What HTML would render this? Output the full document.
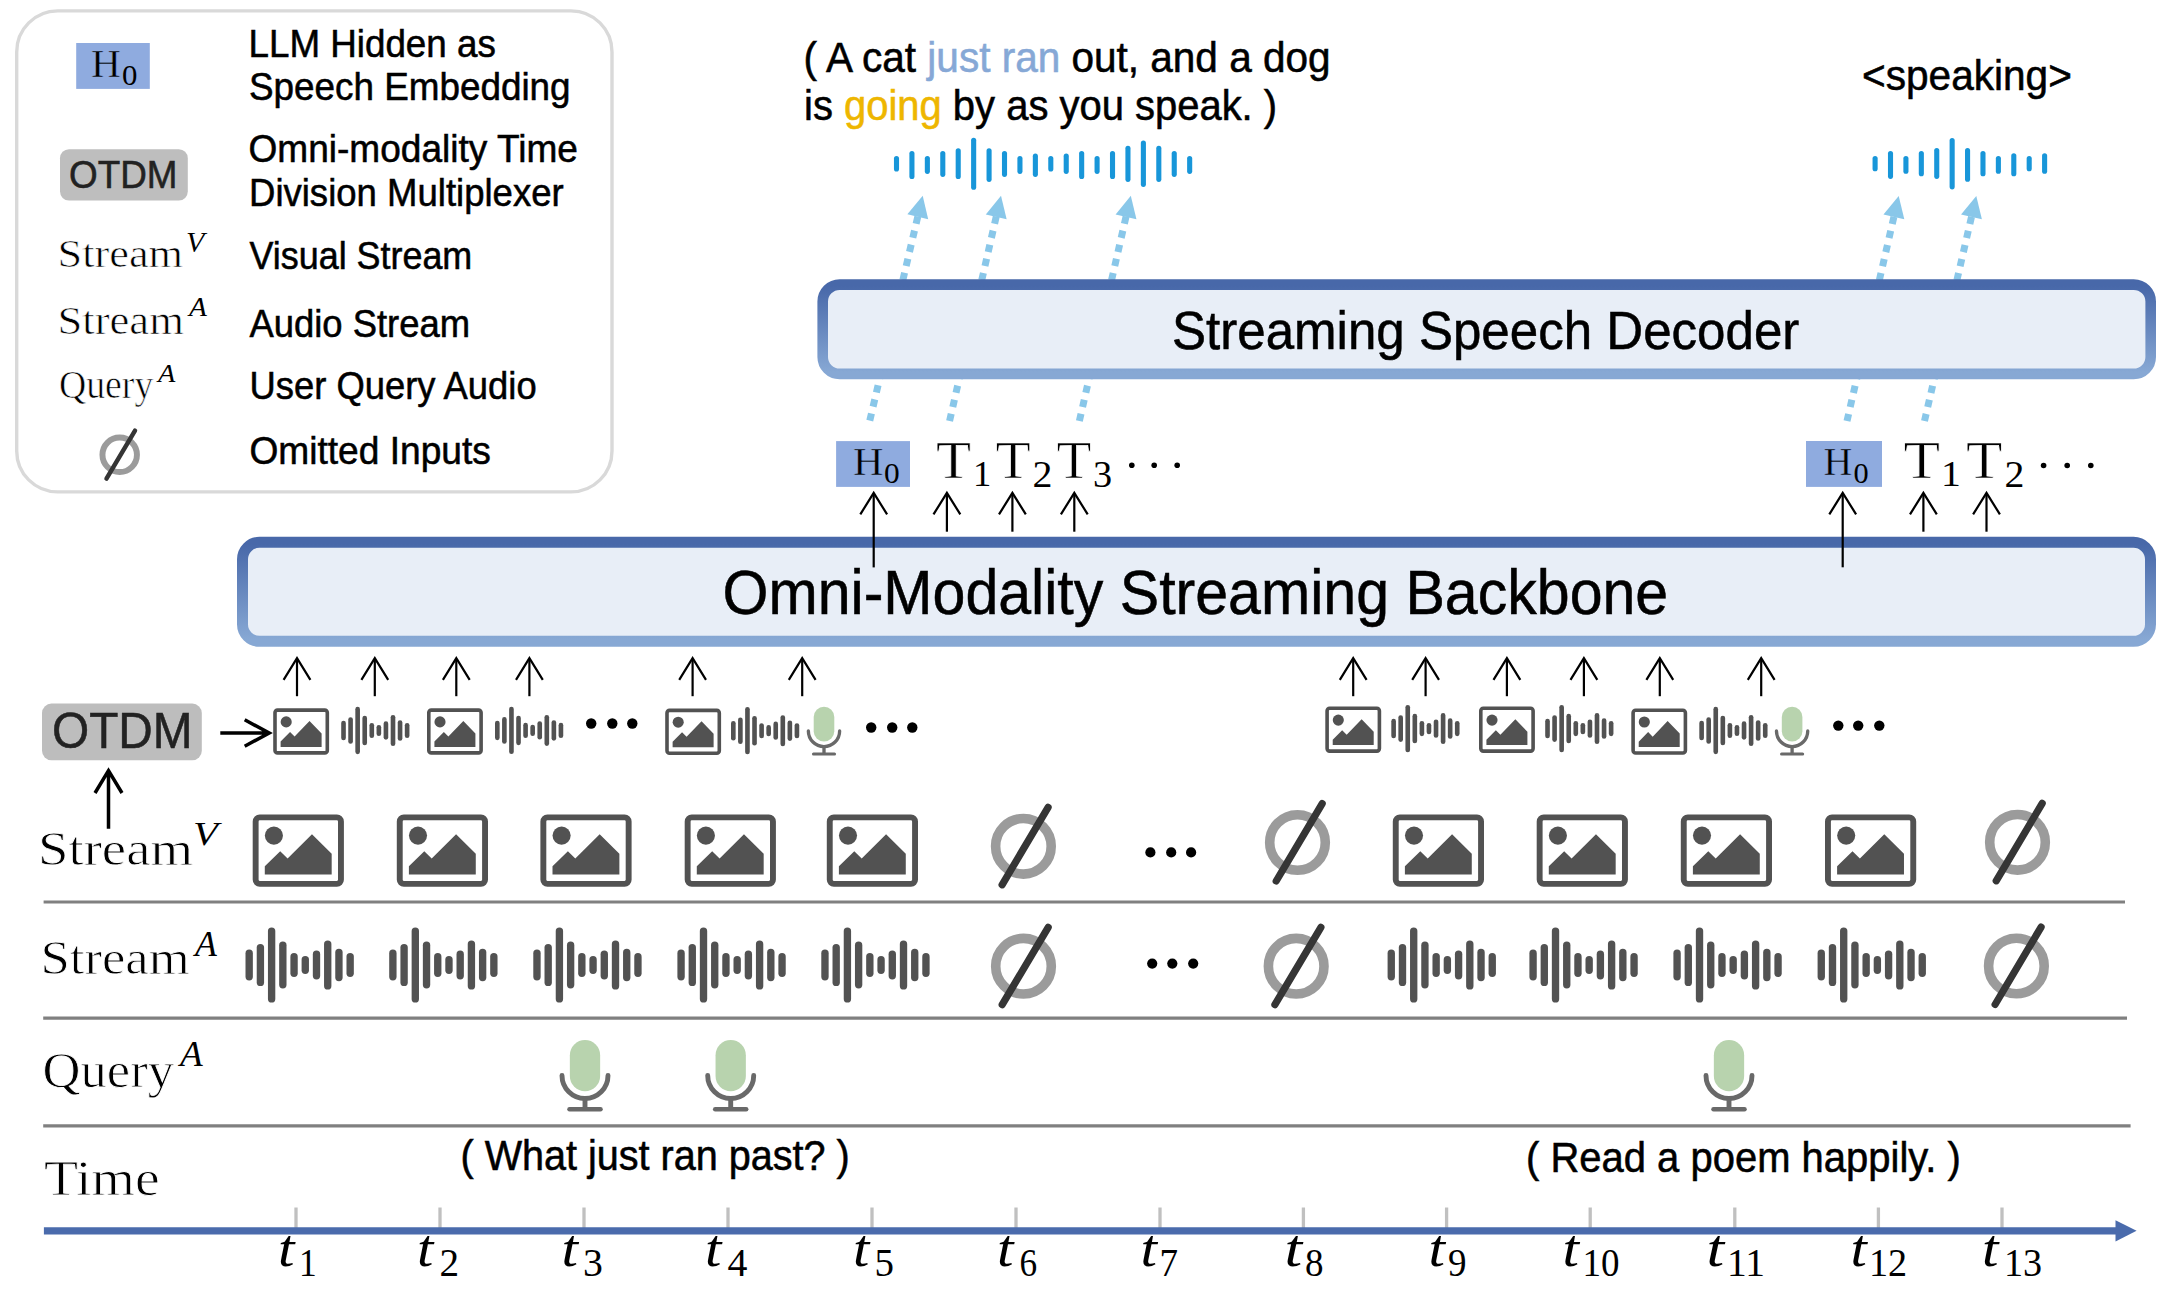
<!DOCTYPE html>
<html><head><meta charset="utf-8"><style>
html,body{margin:0;padding:0;background:#FFFFFF;overflow:hidden;width:2158px;height:1292px;}
svg{display:block;}
</style></head><body>
<svg width="2158" height="1292" viewBox="0 0 2158 1292">
<rect width="2158" height="1292" fill="#FFFFFF"/>
<defs><linearGradient id="g1" x1="0" y1="0" x2="0" y2="1"><stop offset="0.02" stop-color="#4868A9"/><stop offset="0.98" stop-color="#87A8D4"/></linearGradient></defs>
<rect x="16.7" y="10.9" width="595.3" height="481" rx="41" fill="none" stroke="#D9D9D9" stroke-width="3.4"/>
<rect x="76.2" y="43" width="73.6" height="45.9" fill="#8FABDF"/>
<rect x="60" y="149.2" width="127.8" height="51.4" rx="9" fill="#BEBEBE"/>
<circle cx="119.70" cy="454.80" r="17.24" fill="none" stroke="#9B9B9B" stroke-width="5.95"/><line x1="106.49" y1="478.67" x2="135.01" y2="430.68" stroke="#353535" stroke-width="4.46" stroke-linecap="round"/>
<line x1="896.50" y1="158.45" x2="896.50" y2="168.95" stroke="#1896D9" stroke-width="5.1" stroke-linecap="round"/><line x1="911.93" y1="153.45" x2="911.93" y2="176.55" stroke="#1896D9" stroke-width="5.1" stroke-linecap="round"/><line x1="927.36" y1="158.45" x2="927.36" y2="171.35" stroke="#1896D9" stroke-width="5.1" stroke-linecap="round"/><line x1="942.79" y1="153.45" x2="942.79" y2="174.35" stroke="#1896D9" stroke-width="5.1" stroke-linecap="round"/><line x1="958.22" y1="150.75" x2="958.22" y2="176.55" stroke="#1896D9" stroke-width="5.1" stroke-linecap="round"/><line x1="973.65" y1="140.35" x2="973.65" y2="187.15" stroke="#1896D9" stroke-width="5.1" stroke-linecap="round"/><line x1="989.08" y1="150.75" x2="989.08" y2="179.35" stroke="#1896D9" stroke-width="5.1" stroke-linecap="round"/><line x1="1004.51" y1="153.45" x2="1004.51" y2="174.35" stroke="#1896D9" stroke-width="5.1" stroke-linecap="round"/><line x1="1019.94" y1="158.45" x2="1019.94" y2="171.35" stroke="#1896D9" stroke-width="5.1" stroke-linecap="round"/><line x1="1035.37" y1="156.15" x2="1035.37" y2="174.35" stroke="#1896D9" stroke-width="5.1" stroke-linecap="round"/><line x1="1050.80" y1="158.45" x2="1050.80" y2="168.95" stroke="#1896D9" stroke-width="5.1" stroke-linecap="round"/><line x1="1066.23" y1="156.15" x2="1066.23" y2="171.35" stroke="#1896D9" stroke-width="5.1" stroke-linecap="round"/><line x1="1081.66" y1="153.45" x2="1081.66" y2="176.55" stroke="#1896D9" stroke-width="5.1" stroke-linecap="round"/><line x1="1097.09" y1="158.45" x2="1097.09" y2="171.35" stroke="#1896D9" stroke-width="5.1" stroke-linecap="round"/><line x1="1112.52" y1="153.45" x2="1112.52" y2="176.55" stroke="#1896D9" stroke-width="5.1" stroke-linecap="round"/><line x1="1127.95" y1="148.25" x2="1127.95" y2="179.35" stroke="#1896D9" stroke-width="5.1" stroke-linecap="round"/><line x1="1143.38" y1="143.05" x2="1143.38" y2="184.35" stroke="#1896D9" stroke-width="5.1" stroke-linecap="round"/><line x1="1158.81" y1="148.25" x2="1158.81" y2="179.35" stroke="#1896D9" stroke-width="5.1" stroke-linecap="round"/><line x1="1174.24" y1="153.45" x2="1174.24" y2="174.35" stroke="#1896D9" stroke-width="5.1" stroke-linecap="round"/><line x1="1189.67" y1="158.45" x2="1189.67" y2="171.35" stroke="#1896D9" stroke-width="5.1" stroke-linecap="round"/>
<line x1="1875.10" y1="158.55" x2="1875.10" y2="168.65" stroke="#1896D9" stroke-width="5.1" stroke-linecap="round"/><line x1="1890.51" y1="153.55" x2="1890.51" y2="176.35" stroke="#1896D9" stroke-width="5.1" stroke-linecap="round"/><line x1="1905.92" y1="158.55" x2="1905.92" y2="171.25" stroke="#1896D9" stroke-width="5.1" stroke-linecap="round"/><line x1="1921.33" y1="153.55" x2="1921.33" y2="173.65" stroke="#1896D9" stroke-width="5.1" stroke-linecap="round"/><line x1="1936.74" y1="150.55" x2="1936.74" y2="176.35" stroke="#1896D9" stroke-width="5.1" stroke-linecap="round"/><line x1="1952.15" y1="140.45" x2="1952.15" y2="186.85" stroke="#1896D9" stroke-width="5.1" stroke-linecap="round"/><line x1="1967.56" y1="150.55" x2="1967.56" y2="179.25" stroke="#1896D9" stroke-width="5.1" stroke-linecap="round"/><line x1="1982.97" y1="153.55" x2="1982.97" y2="173.65" stroke="#1896D9" stroke-width="5.1" stroke-linecap="round"/><line x1="1998.38" y1="158.55" x2="1998.38" y2="171.25" stroke="#1896D9" stroke-width="5.1" stroke-linecap="round"/><line x1="2013.79" y1="155.85" x2="2013.79" y2="173.65" stroke="#1896D9" stroke-width="5.1" stroke-linecap="round"/><line x1="2029.20" y1="158.55" x2="2029.20" y2="168.65" stroke="#1896D9" stroke-width="5.1" stroke-linecap="round"/><line x1="2044.61" y1="155.85" x2="2044.61" y2="171.25" stroke="#1896D9" stroke-width="5.1" stroke-linecap="round"/>
<line x1="918.23" y1="214.78" x2="869.50" y2="421.80" stroke="#89C7E9" stroke-width="7" stroke-dasharray="7.4 7.05" stroke-dashoffset="-1.80"/>
<polygon points="922.70,195.80 928.19,219.18 907.36,214.28" fill="#89C7E9"/>
<line x1="996.66" y1="214.81" x2="949.40" y2="421.80" stroke="#89C7E9" stroke-width="7" stroke-dasharray="7.4 7.05" stroke-dashoffset="-1.80"/>
<polygon points="1001.00,195.80 1006.65,219.14 985.78,214.38" fill="#89C7E9"/>
<line x1="1126.46" y1="214.81" x2="1079.20" y2="421.80" stroke="#89C7E9" stroke-width="7" stroke-dasharray="7.4 7.05" stroke-dashoffset="-1.80"/>
<polygon points="1130.80,195.80 1136.45,219.14 1115.58,214.38" fill="#89C7E9"/>
<line x1="1894.33" y1="215.00" x2="1847.00" y2="421.00" stroke="#89C7E9" stroke-width="7" stroke-dasharray="7.4 7.05" stroke-dashoffset="-1.80"/>
<polygon points="1898.70,196.00 1904.31,219.35 1883.46,214.56" fill="#89C7E9"/>
<line x1="1971.93" y1="215.00" x2="1924.50" y2="421.00" stroke="#89C7E9" stroke-width="7" stroke-dasharray="7.4 7.05" stroke-dashoffset="-1.80"/>
<polygon points="1976.30,196.00 1981.90,219.35 1961.05,214.55" fill="#89C7E9"/>
<rect x="822.7" y="284.6" width="1328" height="89.3" rx="17" fill="#E8EEF7" stroke="url(#g1)" stroke-width="10.6"/>
<rect x="836.1" y="441.1" width="73.9" height="45.8" fill="#8FABDF"/>
<rect x="1806" y="441" width="76" height="45.9" fill="#8FABDF"/>
<circle cx="1131.8" cy="465.2" r="2.8" fill="#000"/><circle cx="1154.2" cy="465.2" r="2.8" fill="#000"/><circle cx="1177.2" cy="465.2" r="2.8" fill="#000"/>
<circle cx="2043.6" cy="465.5" r="2.8" fill="#000"/><circle cx="2067.2" cy="465.5" r="2.8" fill="#000"/><circle cx="2090.8" cy="465.5" r="2.8" fill="#000"/>
<path d="M946.9,531.7 L946.9,493.8" stroke="#000" stroke-width="2.2" fill="none"/><path d="M933.5,514.4 L946.9,492.8 L960.3,514.4" stroke="#000" stroke-width="2.2" fill="none" stroke-linejoin="miter"/>
<path d="M1012.4,531.7 L1012.4,493.8" stroke="#000" stroke-width="2.2" fill="none"/><path d="M999.0,514.4 L1012.4,492.8 L1025.8,514.4" stroke="#000" stroke-width="2.2" fill="none" stroke-linejoin="miter"/>
<path d="M1074.3,531.7 L1074.3,493.8" stroke="#000" stroke-width="2.2" fill="none"/><path d="M1060.8999999999999,514.4 L1074.3,492.8 L1087.7,514.4" stroke="#000" stroke-width="2.2" fill="none" stroke-linejoin="miter"/>
<path d="M1923.4,531.7 L1923.4,493.8" stroke="#000" stroke-width="2.2" fill="none"/><path d="M1910.0,514.4 L1923.4,492.8 L1936.8000000000002,514.4" stroke="#000" stroke-width="2.2" fill="none" stroke-linejoin="miter"/>
<path d="M1986.5,531.7 L1986.5,493.8" stroke="#000" stroke-width="2.2" fill="none"/><path d="M1973.1,514.4 L1986.5,492.8 L1999.9,514.4" stroke="#000" stroke-width="2.2" fill="none" stroke-linejoin="miter"/>
<rect x="242.5" y="542.3" width="1908" height="99" rx="17" fill="#E8EEF7" stroke="url(#g1)" stroke-width="11"/>
<path d="M873.7,567.4 L873.7,493.8" stroke="#000" stroke-width="2.2" fill="none"/><path d="M860.3000000000001,514.4 L873.7,492.8 L887.1,514.4" stroke="#000" stroke-width="2.2" fill="none" stroke-linejoin="miter"/>
<path d="M1842.7,567.3 L1842.7,493.8" stroke="#000" stroke-width="2.2" fill="none"/><path d="M1829.3,514.4 L1842.7,492.8 L1856.1000000000001,514.4" stroke="#000" stroke-width="2.2" fill="none" stroke-linejoin="miter"/>
<path d="M297,696.2 L297,659.2" stroke="#000" stroke-width="2.2" fill="none"/><path d="M283.6,679.8000000000001 L297,658.2 L310.4,679.8000000000001" stroke="#000" stroke-width="2.2" fill="none" stroke-linejoin="miter"/>
<path d="M374.8,696.2 L374.8,659.2" stroke="#000" stroke-width="2.2" fill="none"/><path d="M361.40000000000003,679.8000000000001 L374.8,658.2 L388.2,679.8000000000001" stroke="#000" stroke-width="2.2" fill="none" stroke-linejoin="miter"/>
<path d="M456.3,696.2 L456.3,659.2" stroke="#000" stroke-width="2.2" fill="none"/><path d="M442.90000000000003,679.8000000000001 L456.3,658.2 L469.7,679.8000000000001" stroke="#000" stroke-width="2.2" fill="none" stroke-linejoin="miter"/>
<path d="M529.4,696.2 L529.4,659.2" stroke="#000" stroke-width="2.2" fill="none"/><path d="M516.0,679.8000000000001 L529.4,658.2 L542.8,679.8000000000001" stroke="#000" stroke-width="2.2" fill="none" stroke-linejoin="miter"/>
<path d="M692.6,696.2 L692.6,659.2" stroke="#000" stroke-width="2.2" fill="none"/><path d="M679.2,679.8000000000001 L692.6,658.2 L706.0,679.8000000000001" stroke="#000" stroke-width="2.2" fill="none" stroke-linejoin="miter"/>
<path d="M802.2,696.2 L802.2,659.2" stroke="#000" stroke-width="2.2" fill="none"/><path d="M788.8000000000001,679.8000000000001 L802.2,658.2 L815.6,679.8000000000001" stroke="#000" stroke-width="2.2" fill="none" stroke-linejoin="miter"/>
<path d="M1353.2,696.2 L1353.2,659.2" stroke="#000" stroke-width="2.2" fill="none"/><path d="M1339.8,679.8000000000001 L1353.2,658.2 L1366.6000000000001,679.8000000000001" stroke="#000" stroke-width="2.2" fill="none" stroke-linejoin="miter"/>
<path d="M1425.6,696.2 L1425.6,659.2" stroke="#000" stroke-width="2.2" fill="none"/><path d="M1412.1999999999998,679.8000000000001 L1425.6,658.2 L1439.0,679.8000000000001" stroke="#000" stroke-width="2.2" fill="none" stroke-linejoin="miter"/>
<path d="M1506.9,696.2 L1506.9,659.2" stroke="#000" stroke-width="2.2" fill="none"/><path d="M1493.5,679.8000000000001 L1506.9,658.2 L1520.3000000000002,679.8000000000001" stroke="#000" stroke-width="2.2" fill="none" stroke-linejoin="miter"/>
<path d="M1583.9,696.2 L1583.9,659.2" stroke="#000" stroke-width="2.2" fill="none"/><path d="M1570.5,679.8000000000001 L1583.9,658.2 L1597.3000000000002,679.8000000000001" stroke="#000" stroke-width="2.2" fill="none" stroke-linejoin="miter"/>
<path d="M1659.8,696.2 L1659.8,659.2" stroke="#000" stroke-width="2.2" fill="none"/><path d="M1646.3999999999999,679.8000000000001 L1659.8,658.2 L1673.2,679.8000000000001" stroke="#000" stroke-width="2.2" fill="none" stroke-linejoin="miter"/>
<path d="M1761.2,696.2 L1761.2,659.2" stroke="#000" stroke-width="2.2" fill="none"/><path d="M1747.8,679.8000000000001 L1761.2,658.2 L1774.6000000000001,679.8000000000001" stroke="#000" stroke-width="2.2" fill="none" stroke-linejoin="miter"/>
<rect x="42" y="703.6" width="159.8" height="56.7" rx="9.5" fill="#BDBDBD"/>
<path d="M220.3,733 L268,733 M244.7,719.8 L269.2,733 L244.7,746.2" stroke="#000" stroke-width="3.5" fill="none"/>
<path d="M108.5,828.8 L108.5,773 M95,793 L108.5,770.6 L122,793" stroke="#000" stroke-width="3.5" fill="none"/>
<rect x="275.00" y="710.10" width="52.30" height="42.80" rx="2.50" fill="none" stroke="#525252" stroke-width="3.60"/><circle cx="286.20" cy="721.90" r="5.55" fill="#525252"/><polygon points="280.62,741.57 290.05,731.95 294.59,736.56 309.53,720.99 321.61,733.50 321.61,746.88 280.62,746.88" fill="#525252"/>
<rect x="428.80" y="710.10" width="52.30" height="42.80" rx="2.50" fill="none" stroke="#525252" stroke-width="3.60"/><circle cx="440.00" cy="721.90" r="5.55" fill="#525252"/><polygon points="434.42,741.57 443.85,731.95 448.39,736.56 463.33,720.99 475.41,733.50 475.41,746.88 434.42,746.88" fill="#525252"/>
<rect x="667.00" y="710.40" width="52.30" height="42.80" rx="2.50" fill="none" stroke="#525252" stroke-width="3.60"/><circle cx="678.20" cy="722.20" r="5.55" fill="#525252"/><polygon points="672.62,741.87 682.05,732.25 686.59,736.86 701.54,721.29 713.61,733.80 713.61,747.18 672.62,747.18" fill="#525252"/>
<rect x="1327.10" y="708.30" width="52.30" height="42.80" rx="2.50" fill="none" stroke="#525252" stroke-width="3.60"/><circle cx="1338.30" cy="720.10" r="5.55" fill="#525252"/><polygon points="1332.72,739.77 1342.15,730.15 1346.69,734.76 1361.63,719.19 1373.71,731.70 1373.71,745.08 1332.72,745.08" fill="#525252"/>
<rect x="1480.80" y="708.30" width="52.30" height="42.80" rx="2.50" fill="none" stroke="#525252" stroke-width="3.60"/><circle cx="1492.00" cy="720.10" r="5.55" fill="#525252"/><polygon points="1486.42,739.77 1495.85,730.15 1500.39,734.76 1515.34,719.19 1527.41,731.70 1527.41,745.08 1486.42,745.08" fill="#525252"/>
<rect x="1633.10" y="710.20" width="52.30" height="42.80" rx="2.50" fill="none" stroke="#525252" stroke-width="3.60"/><circle cx="1644.30" cy="722.00" r="5.55" fill="#525252"/><polygon points="1638.72,741.67 1648.15,732.05 1652.69,736.66 1667.63,721.09 1679.71,733.60 1679.71,746.98 1638.72,746.98" fill="#525252"/>
<line x1="343.52" y1="723.05" x2="343.52" y2="737.95" stroke="#525252" stroke-width="4.63" stroke-linecap="round"/><line x1="350.58" y1="719.52" x2="350.58" y2="741.48" stroke="#525252" stroke-width="4.63" stroke-linecap="round"/><line x1="357.65" y1="709.16" x2="357.65" y2="751.84" stroke="#525252" stroke-width="4.63" stroke-linecap="round"/><line x1="364.72" y1="718.07" x2="364.72" y2="742.93" stroke="#525252" stroke-width="4.63" stroke-linecap="round"/><line x1="371.79" y1="725.26" x2="371.79" y2="735.74" stroke="#525252" stroke-width="4.63" stroke-linecap="round"/><line x1="378.86" y1="727.21" x2="378.86" y2="733.79" stroke="#525252" stroke-width="4.63" stroke-linecap="round"/><line x1="385.93" y1="723.68" x2="385.93" y2="737.32" stroke="#525252" stroke-width="4.63" stroke-linecap="round"/><line x1="393.00" y1="717.32" x2="393.00" y2="743.68" stroke="#525252" stroke-width="4.63" stroke-linecap="round"/><line x1="400.06" y1="722.58" x2="400.06" y2="738.42" stroke="#525252" stroke-width="4.63" stroke-linecap="round"/><line x1="407.13" y1="725.26" x2="407.13" y2="735.74" stroke="#525252" stroke-width="4.63" stroke-linecap="round"/>
<line x1="497.32" y1="722.95" x2="497.32" y2="737.85" stroke="#525252" stroke-width="4.63" stroke-linecap="round"/><line x1="504.38" y1="719.42" x2="504.38" y2="741.38" stroke="#525252" stroke-width="4.63" stroke-linecap="round"/><line x1="511.45" y1="709.06" x2="511.45" y2="751.74" stroke="#525252" stroke-width="4.63" stroke-linecap="round"/><line x1="518.52" y1="717.97" x2="518.52" y2="742.83" stroke="#525252" stroke-width="4.63" stroke-linecap="round"/><line x1="525.59" y1="725.16" x2="525.59" y2="735.64" stroke="#525252" stroke-width="4.63" stroke-linecap="round"/><line x1="532.66" y1="727.11" x2="532.66" y2="733.69" stroke="#525252" stroke-width="4.63" stroke-linecap="round"/><line x1="539.73" y1="723.58" x2="539.73" y2="737.22" stroke="#525252" stroke-width="4.63" stroke-linecap="round"/><line x1="546.80" y1="717.22" x2="546.80" y2="743.58" stroke="#525252" stroke-width="4.63" stroke-linecap="round"/><line x1="553.86" y1="722.48" x2="553.86" y2="738.32" stroke="#525252" stroke-width="4.63" stroke-linecap="round"/><line x1="560.93" y1="725.16" x2="560.93" y2="735.64" stroke="#525252" stroke-width="4.63" stroke-linecap="round"/>
<line x1="733.32" y1="723.25" x2="733.32" y2="738.15" stroke="#525252" stroke-width="4.63" stroke-linecap="round"/><line x1="740.38" y1="719.72" x2="740.38" y2="741.68" stroke="#525252" stroke-width="4.63" stroke-linecap="round"/><line x1="747.45" y1="709.36" x2="747.45" y2="752.04" stroke="#525252" stroke-width="4.63" stroke-linecap="round"/><line x1="754.52" y1="718.27" x2="754.52" y2="743.13" stroke="#525252" stroke-width="4.63" stroke-linecap="round"/><line x1="761.59" y1="725.46" x2="761.59" y2="735.94" stroke="#525252" stroke-width="4.63" stroke-linecap="round"/><line x1="768.66" y1="727.41" x2="768.66" y2="733.99" stroke="#525252" stroke-width="4.63" stroke-linecap="round"/><line x1="775.73" y1="723.88" x2="775.73" y2="737.52" stroke="#525252" stroke-width="4.63" stroke-linecap="round"/><line x1="782.80" y1="717.52" x2="782.80" y2="743.88" stroke="#525252" stroke-width="4.63" stroke-linecap="round"/><line x1="789.86" y1="722.78" x2="789.86" y2="738.62" stroke="#525252" stroke-width="4.63" stroke-linecap="round"/><line x1="796.93" y1="725.46" x2="796.93" y2="735.94" stroke="#525252" stroke-width="4.63" stroke-linecap="round"/>
<line x1="1393.62" y1="721.15" x2="1393.62" y2="736.05" stroke="#525252" stroke-width="4.63" stroke-linecap="round"/><line x1="1400.68" y1="717.62" x2="1400.68" y2="739.58" stroke="#525252" stroke-width="4.63" stroke-linecap="round"/><line x1="1407.75" y1="707.26" x2="1407.75" y2="749.94" stroke="#525252" stroke-width="4.63" stroke-linecap="round"/><line x1="1414.82" y1="716.17" x2="1414.82" y2="741.03" stroke="#525252" stroke-width="4.63" stroke-linecap="round"/><line x1="1421.89" y1="723.36" x2="1421.89" y2="733.84" stroke="#525252" stroke-width="4.63" stroke-linecap="round"/><line x1="1428.96" y1="725.31" x2="1428.96" y2="731.89" stroke="#525252" stroke-width="4.63" stroke-linecap="round"/><line x1="1436.03" y1="721.78" x2="1436.03" y2="735.42" stroke="#525252" stroke-width="4.63" stroke-linecap="round"/><line x1="1443.10" y1="715.42" x2="1443.10" y2="741.78" stroke="#525252" stroke-width="4.63" stroke-linecap="round"/><line x1="1450.16" y1="720.68" x2="1450.16" y2="736.52" stroke="#525252" stroke-width="4.63" stroke-linecap="round"/><line x1="1457.23" y1="723.36" x2="1457.23" y2="733.84" stroke="#525252" stroke-width="4.63" stroke-linecap="round"/>
<line x1="1547.52" y1="721.15" x2="1547.52" y2="736.05" stroke="#525252" stroke-width="4.63" stroke-linecap="round"/><line x1="1554.58" y1="717.62" x2="1554.58" y2="739.58" stroke="#525252" stroke-width="4.63" stroke-linecap="round"/><line x1="1561.65" y1="707.26" x2="1561.65" y2="749.94" stroke="#525252" stroke-width="4.63" stroke-linecap="round"/><line x1="1568.72" y1="716.17" x2="1568.72" y2="741.03" stroke="#525252" stroke-width="4.63" stroke-linecap="round"/><line x1="1575.79" y1="723.36" x2="1575.79" y2="733.84" stroke="#525252" stroke-width="4.63" stroke-linecap="round"/><line x1="1582.86" y1="725.31" x2="1582.86" y2="731.89" stroke="#525252" stroke-width="4.63" stroke-linecap="round"/><line x1="1589.93" y1="721.78" x2="1589.93" y2="735.42" stroke="#525252" stroke-width="4.63" stroke-linecap="round"/><line x1="1597.00" y1="715.42" x2="1597.00" y2="741.78" stroke="#525252" stroke-width="4.63" stroke-linecap="round"/><line x1="1604.06" y1="720.68" x2="1604.06" y2="736.52" stroke="#525252" stroke-width="4.63" stroke-linecap="round"/><line x1="1611.13" y1="723.36" x2="1611.13" y2="733.84" stroke="#525252" stroke-width="4.63" stroke-linecap="round"/>
<line x1="1701.62" y1="723.05" x2="1701.62" y2="737.95" stroke="#525252" stroke-width="4.63" stroke-linecap="round"/><line x1="1708.68" y1="719.52" x2="1708.68" y2="741.48" stroke="#525252" stroke-width="4.63" stroke-linecap="round"/><line x1="1715.75" y1="709.16" x2="1715.75" y2="751.84" stroke="#525252" stroke-width="4.63" stroke-linecap="round"/><line x1="1722.82" y1="718.07" x2="1722.82" y2="742.93" stroke="#525252" stroke-width="4.63" stroke-linecap="round"/><line x1="1729.89" y1="725.26" x2="1729.89" y2="735.74" stroke="#525252" stroke-width="4.63" stroke-linecap="round"/><line x1="1736.96" y1="727.21" x2="1736.96" y2="733.79" stroke="#525252" stroke-width="4.63" stroke-linecap="round"/><line x1="1744.03" y1="723.68" x2="1744.03" y2="737.32" stroke="#525252" stroke-width="4.63" stroke-linecap="round"/><line x1="1751.10" y1="717.32" x2="1751.10" y2="743.68" stroke="#525252" stroke-width="4.63" stroke-linecap="round"/><line x1="1758.16" y1="722.58" x2="1758.16" y2="738.42" stroke="#525252" stroke-width="4.63" stroke-linecap="round"/><line x1="1765.23" y1="725.26" x2="1765.23" y2="735.74" stroke="#525252" stroke-width="4.63" stroke-linecap="round"/>
<rect x="813.70" y="706.80" width="20.60" height="34.82" rx="10.30" fill="#B8D3AE"/><path d="M808.36,730.94 A15.64,15.64 0 0 0 839.64,730.94" fill="none" stroke="#696969" stroke-width="3.33" stroke-linecap="round"/><line x1="824.00" y1="746.58" x2="824.00" y2="753.92" stroke="#696969" stroke-width="3.33"/><line x1="813.46" y1="753.92" x2="834.54" y2="753.92" stroke="#696969" stroke-width="3.06" stroke-linecap="round"/>
<rect x="1781.80" y="706.80" width="20.60" height="34.82" rx="10.30" fill="#B8D3AE"/><path d="M1776.46,730.94 A15.64,15.64 0 0 0 1807.74,730.94" fill="none" stroke="#696969" stroke-width="3.33" stroke-linecap="round"/><line x1="1792.10" y1="746.58" x2="1792.10" y2="753.92" stroke="#696969" stroke-width="3.33"/><line x1="1781.56" y1="753.92" x2="1802.64" y2="753.92" stroke="#696969" stroke-width="3.06" stroke-linecap="round"/>
<circle cx="591.2" cy="723.5" r="5.2" fill="#000"/><circle cx="612.3" cy="723.5" r="5.2" fill="#000"/><circle cx="632.3" cy="723.5" r="5.2" fill="#000"/>
<circle cx="871.2" cy="727.5" r="5.2" fill="#000"/><circle cx="892.2" cy="727.5" r="5.2" fill="#000"/><circle cx="912.3" cy="727.5" r="5.2" fill="#000"/>
<circle cx="1838.3" cy="725.6" r="5.2" fill="#000"/><circle cx="1858.2" cy="725.6" r="5.2" fill="#000"/><circle cx="1879.3" cy="725.6" r="5.2" fill="#000"/>
<rect x="255.65" y="817.35" width="85.30" height="66.50" rx="4.07" fill="none" stroke="#525252" stroke-width="5.90"/><circle cx="273.90" cy="835.61" r="9.05" fill="#525252"/><polygon points="264.80,866.31 280.20,851.30 287.60,858.49 311.98,834.20 331.68,853.71 331.68,874.60 264.80,874.60" fill="#525252"/>
<rect x="399.75" y="817.35" width="85.30" height="66.50" rx="4.07" fill="none" stroke="#525252" stroke-width="5.90"/><circle cx="418.00" cy="835.61" r="9.05" fill="#525252"/><polygon points="408.90,866.31 424.30,851.30 431.70,858.49 456.08,834.20 475.78,853.71 475.78,874.60 408.90,874.60" fill="#525252"/>
<rect x="543.35" y="817.35" width="85.30" height="66.50" rx="4.07" fill="none" stroke="#525252" stroke-width="5.90"/><circle cx="561.60" cy="835.61" r="9.05" fill="#525252"/><polygon points="552.50,866.31 567.90,851.30 575.30,858.49 599.68,834.20 619.38,853.71 619.38,874.60 552.50,874.60" fill="#525252"/>
<rect x="687.65" y="817.35" width="85.30" height="66.50" rx="4.07" fill="none" stroke="#525252" stroke-width="5.90"/><circle cx="705.90" cy="835.61" r="9.05" fill="#525252"/><polygon points="696.80,866.31 712.20,851.30 719.60,858.49 743.98,834.20 763.68,853.71 763.68,874.60 696.80,874.60" fill="#525252"/>
<rect x="829.75" y="817.35" width="85.30" height="66.50" rx="4.07" fill="none" stroke="#525252" stroke-width="5.90"/><circle cx="848.00" cy="835.61" r="9.05" fill="#525252"/><polygon points="838.90,866.31 854.30,851.30 861.70,858.49 886.08,834.20 905.78,853.71 905.78,874.60 838.90,874.60" fill="#525252"/>
<rect x="1395.75" y="817.35" width="85.30" height="66.50" rx="4.07" fill="none" stroke="#525252" stroke-width="5.90"/><circle cx="1414.00" cy="835.61" r="9.05" fill="#525252"/><polygon points="1404.90,866.31 1420.30,851.30 1427.70,858.49 1452.08,834.20 1471.78,853.71 1471.78,874.60 1404.90,874.60" fill="#525252"/>
<rect x="1539.65" y="817.35" width="85.30" height="66.50" rx="4.07" fill="none" stroke="#525252" stroke-width="5.90"/><circle cx="1557.90" cy="835.61" r="9.05" fill="#525252"/><polygon points="1548.80,866.31 1564.20,851.30 1571.60,858.49 1595.98,834.20 1615.68,853.71 1615.68,874.60 1548.80,874.60" fill="#525252"/>
<rect x="1683.75" y="817.35" width="85.30" height="66.50" rx="4.07" fill="none" stroke="#525252" stroke-width="5.90"/><circle cx="1702.00" cy="835.61" r="9.05" fill="#525252"/><polygon points="1692.90,866.31 1708.30,851.30 1715.70,858.49 1740.08,834.20 1759.78,853.71 1759.78,874.60 1692.90,874.60" fill="#525252"/>
<rect x="1827.95" y="817.35" width="85.30" height="66.50" rx="4.07" fill="none" stroke="#525252" stroke-width="5.90"/><circle cx="1846.20" cy="835.61" r="9.05" fill="#525252"/><polygon points="1837.10,866.31 1852.50,851.30 1859.90,858.49 1884.28,834.20 1903.98,853.71 1903.98,874.60 1837.10,874.60" fill="#525252"/>
<circle cx="1023.40" cy="846.30" r="27.80" fill="none" stroke="#9B9B9B" stroke-width="9.60"/><line x1="1002.10" y1="884.80" x2="1048.10" y2="807.40" stroke="#353535" stroke-width="7.20" stroke-linecap="round"/>
<circle cx="1297.50" cy="842.50" r="27.80" fill="none" stroke="#9B9B9B" stroke-width="9.60"/><line x1="1276.20" y1="881.00" x2="1322.20" y2="803.60" stroke="#353535" stroke-width="7.20" stroke-linecap="round"/>
<circle cx="2017.50" cy="842.30" r="27.80" fill="none" stroke="#9B9B9B" stroke-width="9.60"/><line x1="1996.20" y1="880.80" x2="2042.20" y2="803.40" stroke="#353535" stroke-width="7.20" stroke-linecap="round"/>
<circle cx="1150.4" cy="852.4" r="5.1" fill="#000"/><circle cx="1171.2" cy="852.4" r="5.1" fill="#000"/><circle cx="1191.1" cy="852.4" r="5.1" fill="#000"/>
<line x1="43.6" y1="902" x2="2125" y2="902" stroke="#808080" stroke-width="3.2"/>
<line x1="249.18" y1="953.17" x2="249.18" y2="976.83" stroke="#525252" stroke-width="7.35" stroke-linecap="round"/><line x1="260.40" y1="947.57" x2="260.40" y2="982.43" stroke="#525252" stroke-width="7.35" stroke-linecap="round"/><line x1="271.62" y1="931.12" x2="271.62" y2="998.88" stroke="#525252" stroke-width="7.35" stroke-linecap="round"/><line x1="282.84" y1="945.27" x2="282.84" y2="984.73" stroke="#525252" stroke-width="7.35" stroke-linecap="round"/><line x1="294.06" y1="956.67" x2="294.06" y2="973.33" stroke="#525252" stroke-width="7.35" stroke-linecap="round"/><line x1="305.28" y1="959.77" x2="305.28" y2="970.23" stroke="#525252" stroke-width="7.35" stroke-linecap="round"/><line x1="316.50" y1="954.17" x2="316.50" y2="975.83" stroke="#525252" stroke-width="7.35" stroke-linecap="round"/><line x1="327.72" y1="944.07" x2="327.72" y2="985.93" stroke="#525252" stroke-width="7.35" stroke-linecap="round"/><line x1="338.94" y1="952.42" x2="338.94" y2="977.58" stroke="#525252" stroke-width="7.35" stroke-linecap="round"/><line x1="350.16" y1="956.67" x2="350.16" y2="973.33" stroke="#525252" stroke-width="7.35" stroke-linecap="round"/>
<line x1="392.88" y1="953.17" x2="392.88" y2="976.83" stroke="#525252" stroke-width="7.35" stroke-linecap="round"/><line x1="404.10" y1="947.57" x2="404.10" y2="982.43" stroke="#525252" stroke-width="7.35" stroke-linecap="round"/><line x1="415.31" y1="931.12" x2="415.31" y2="998.88" stroke="#525252" stroke-width="7.35" stroke-linecap="round"/><line x1="426.54" y1="945.27" x2="426.54" y2="984.73" stroke="#525252" stroke-width="7.35" stroke-linecap="round"/><line x1="437.75" y1="956.67" x2="437.75" y2="973.33" stroke="#525252" stroke-width="7.35" stroke-linecap="round"/><line x1="448.98" y1="959.77" x2="448.98" y2="970.23" stroke="#525252" stroke-width="7.35" stroke-linecap="round"/><line x1="460.19" y1="954.17" x2="460.19" y2="975.83" stroke="#525252" stroke-width="7.35" stroke-linecap="round"/><line x1="471.42" y1="944.07" x2="471.42" y2="985.93" stroke="#525252" stroke-width="7.35" stroke-linecap="round"/><line x1="482.63" y1="952.42" x2="482.63" y2="977.58" stroke="#525252" stroke-width="7.35" stroke-linecap="round"/><line x1="493.86" y1="956.67" x2="493.86" y2="973.33" stroke="#525252" stroke-width="7.35" stroke-linecap="round"/>
<line x1="536.97" y1="953.17" x2="536.97" y2="976.83" stroke="#525252" stroke-width="7.35" stroke-linecap="round"/><line x1="548.19" y1="947.57" x2="548.19" y2="982.43" stroke="#525252" stroke-width="7.35" stroke-linecap="round"/><line x1="559.41" y1="931.12" x2="559.41" y2="998.88" stroke="#525252" stroke-width="7.35" stroke-linecap="round"/><line x1="570.63" y1="945.27" x2="570.63" y2="984.73" stroke="#525252" stroke-width="7.35" stroke-linecap="round"/><line x1="581.85" y1="956.67" x2="581.85" y2="973.33" stroke="#525252" stroke-width="7.35" stroke-linecap="round"/><line x1="593.07" y1="959.77" x2="593.07" y2="970.23" stroke="#525252" stroke-width="7.35" stroke-linecap="round"/><line x1="604.29" y1="954.17" x2="604.29" y2="975.83" stroke="#525252" stroke-width="7.35" stroke-linecap="round"/><line x1="615.51" y1="944.07" x2="615.51" y2="985.93" stroke="#525252" stroke-width="7.35" stroke-linecap="round"/><line x1="626.73" y1="952.42" x2="626.73" y2="977.58" stroke="#525252" stroke-width="7.35" stroke-linecap="round"/><line x1="637.95" y1="956.67" x2="637.95" y2="973.33" stroke="#525252" stroke-width="7.35" stroke-linecap="round"/>
<line x1="681.07" y1="953.17" x2="681.07" y2="976.83" stroke="#525252" stroke-width="7.35" stroke-linecap="round"/><line x1="692.29" y1="947.57" x2="692.29" y2="982.43" stroke="#525252" stroke-width="7.35" stroke-linecap="round"/><line x1="703.51" y1="931.12" x2="703.51" y2="998.88" stroke="#525252" stroke-width="7.35" stroke-linecap="round"/><line x1="714.73" y1="945.27" x2="714.73" y2="984.73" stroke="#525252" stroke-width="7.35" stroke-linecap="round"/><line x1="725.95" y1="956.67" x2="725.95" y2="973.33" stroke="#525252" stroke-width="7.35" stroke-linecap="round"/><line x1="737.17" y1="959.77" x2="737.17" y2="970.23" stroke="#525252" stroke-width="7.35" stroke-linecap="round"/><line x1="748.39" y1="954.17" x2="748.39" y2="975.83" stroke="#525252" stroke-width="7.35" stroke-linecap="round"/><line x1="759.61" y1="944.07" x2="759.61" y2="985.93" stroke="#525252" stroke-width="7.35" stroke-linecap="round"/><line x1="770.83" y1="952.42" x2="770.83" y2="977.58" stroke="#525252" stroke-width="7.35" stroke-linecap="round"/><line x1="782.05" y1="956.67" x2="782.05" y2="973.33" stroke="#525252" stroke-width="7.35" stroke-linecap="round"/>
<line x1="824.97" y1="953.17" x2="824.97" y2="976.83" stroke="#525252" stroke-width="7.35" stroke-linecap="round"/><line x1="836.19" y1="947.57" x2="836.19" y2="982.43" stroke="#525252" stroke-width="7.35" stroke-linecap="round"/><line x1="847.41" y1="931.12" x2="847.41" y2="998.88" stroke="#525252" stroke-width="7.35" stroke-linecap="round"/><line x1="858.63" y1="945.27" x2="858.63" y2="984.73" stroke="#525252" stroke-width="7.35" stroke-linecap="round"/><line x1="869.85" y1="956.67" x2="869.85" y2="973.33" stroke="#525252" stroke-width="7.35" stroke-linecap="round"/><line x1="881.07" y1="959.77" x2="881.07" y2="970.23" stroke="#525252" stroke-width="7.35" stroke-linecap="round"/><line x1="892.29" y1="954.17" x2="892.29" y2="975.83" stroke="#525252" stroke-width="7.35" stroke-linecap="round"/><line x1="903.51" y1="944.07" x2="903.51" y2="985.93" stroke="#525252" stroke-width="7.35" stroke-linecap="round"/><line x1="914.73" y1="952.42" x2="914.73" y2="977.58" stroke="#525252" stroke-width="7.35" stroke-linecap="round"/><line x1="925.95" y1="956.67" x2="925.95" y2="973.33" stroke="#525252" stroke-width="7.35" stroke-linecap="round"/>
<line x1="1391.27" y1="953.17" x2="1391.27" y2="976.83" stroke="#525252" stroke-width="7.35" stroke-linecap="round"/><line x1="1402.49" y1="947.57" x2="1402.49" y2="982.43" stroke="#525252" stroke-width="7.35" stroke-linecap="round"/><line x1="1413.71" y1="931.12" x2="1413.71" y2="998.88" stroke="#525252" stroke-width="7.35" stroke-linecap="round"/><line x1="1424.93" y1="945.27" x2="1424.93" y2="984.73" stroke="#525252" stroke-width="7.35" stroke-linecap="round"/><line x1="1436.15" y1="956.67" x2="1436.15" y2="973.33" stroke="#525252" stroke-width="7.35" stroke-linecap="round"/><line x1="1447.37" y1="959.77" x2="1447.37" y2="970.23" stroke="#525252" stroke-width="7.35" stroke-linecap="round"/><line x1="1458.59" y1="954.17" x2="1458.59" y2="975.83" stroke="#525252" stroke-width="7.35" stroke-linecap="round"/><line x1="1469.81" y1="944.07" x2="1469.81" y2="985.93" stroke="#525252" stroke-width="7.35" stroke-linecap="round"/><line x1="1481.03" y1="952.42" x2="1481.03" y2="977.58" stroke="#525252" stroke-width="7.35" stroke-linecap="round"/><line x1="1492.25" y1="956.67" x2="1492.25" y2="973.33" stroke="#525252" stroke-width="7.35" stroke-linecap="round"/>
<line x1="1533.08" y1="953.17" x2="1533.08" y2="976.83" stroke="#525252" stroke-width="7.35" stroke-linecap="round"/><line x1="1544.30" y1="947.57" x2="1544.30" y2="982.43" stroke="#525252" stroke-width="7.35" stroke-linecap="round"/><line x1="1555.52" y1="931.12" x2="1555.52" y2="998.88" stroke="#525252" stroke-width="7.35" stroke-linecap="round"/><line x1="1566.74" y1="945.27" x2="1566.74" y2="984.73" stroke="#525252" stroke-width="7.35" stroke-linecap="round"/><line x1="1577.96" y1="956.67" x2="1577.96" y2="973.33" stroke="#525252" stroke-width="7.35" stroke-linecap="round"/><line x1="1589.17" y1="959.77" x2="1589.17" y2="970.23" stroke="#525252" stroke-width="7.35" stroke-linecap="round"/><line x1="1600.39" y1="954.17" x2="1600.39" y2="975.83" stroke="#525252" stroke-width="7.35" stroke-linecap="round"/><line x1="1611.62" y1="944.07" x2="1611.62" y2="985.93" stroke="#525252" stroke-width="7.35" stroke-linecap="round"/><line x1="1622.84" y1="952.42" x2="1622.84" y2="977.58" stroke="#525252" stroke-width="7.35" stroke-linecap="round"/><line x1="1634.06" y1="956.67" x2="1634.06" y2="973.33" stroke="#525252" stroke-width="7.35" stroke-linecap="round"/>
<line x1="1677.08" y1="953.17" x2="1677.08" y2="976.83" stroke="#525252" stroke-width="7.35" stroke-linecap="round"/><line x1="1688.30" y1="947.57" x2="1688.30" y2="982.43" stroke="#525252" stroke-width="7.35" stroke-linecap="round"/><line x1="1699.52" y1="931.12" x2="1699.52" y2="998.88" stroke="#525252" stroke-width="7.35" stroke-linecap="round"/><line x1="1710.74" y1="945.27" x2="1710.74" y2="984.73" stroke="#525252" stroke-width="7.35" stroke-linecap="round"/><line x1="1721.96" y1="956.67" x2="1721.96" y2="973.33" stroke="#525252" stroke-width="7.35" stroke-linecap="round"/><line x1="1733.17" y1="959.77" x2="1733.17" y2="970.23" stroke="#525252" stroke-width="7.35" stroke-linecap="round"/><line x1="1744.39" y1="954.17" x2="1744.39" y2="975.83" stroke="#525252" stroke-width="7.35" stroke-linecap="round"/><line x1="1755.62" y1="944.07" x2="1755.62" y2="985.93" stroke="#525252" stroke-width="7.35" stroke-linecap="round"/><line x1="1766.84" y1="952.42" x2="1766.84" y2="977.58" stroke="#525252" stroke-width="7.35" stroke-linecap="round"/><line x1="1778.06" y1="956.67" x2="1778.06" y2="973.33" stroke="#525252" stroke-width="7.35" stroke-linecap="round"/>
<line x1="1821.27" y1="953.17" x2="1821.27" y2="976.83" stroke="#525252" stroke-width="7.35" stroke-linecap="round"/><line x1="1832.49" y1="947.57" x2="1832.49" y2="982.43" stroke="#525252" stroke-width="7.35" stroke-linecap="round"/><line x1="1843.71" y1="931.12" x2="1843.71" y2="998.88" stroke="#525252" stroke-width="7.35" stroke-linecap="round"/><line x1="1854.93" y1="945.27" x2="1854.93" y2="984.73" stroke="#525252" stroke-width="7.35" stroke-linecap="round"/><line x1="1866.15" y1="956.67" x2="1866.15" y2="973.33" stroke="#525252" stroke-width="7.35" stroke-linecap="round"/><line x1="1877.37" y1="959.77" x2="1877.37" y2="970.23" stroke="#525252" stroke-width="7.35" stroke-linecap="round"/><line x1="1888.59" y1="954.17" x2="1888.59" y2="975.83" stroke="#525252" stroke-width="7.35" stroke-linecap="round"/><line x1="1899.81" y1="944.07" x2="1899.81" y2="985.93" stroke="#525252" stroke-width="7.35" stroke-linecap="round"/><line x1="1911.03" y1="952.42" x2="1911.03" y2="977.58" stroke="#525252" stroke-width="7.35" stroke-linecap="round"/><line x1="1922.25" y1="956.67" x2="1922.25" y2="973.33" stroke="#525252" stroke-width="7.35" stroke-linecap="round"/>
<circle cx="1023.50" cy="966.20" r="27.80" fill="none" stroke="#9B9B9B" stroke-width="9.60"/><line x1="1002.20" y1="1004.70" x2="1048.20" y2="927.30" stroke="#353535" stroke-width="7.20" stroke-linecap="round"/>
<circle cx="1296.20" cy="966.20" r="27.80" fill="none" stroke="#9B9B9B" stroke-width="9.60"/><line x1="1274.90" y1="1004.70" x2="1320.90" y2="927.30" stroke="#353535" stroke-width="7.20" stroke-linecap="round"/>
<circle cx="2016.40" cy="966.00" r="27.80" fill="none" stroke="#9B9B9B" stroke-width="9.60"/><line x1="1995.10" y1="1004.50" x2="2041.10" y2="927.10" stroke="#353535" stroke-width="7.20" stroke-linecap="round"/>
<circle cx="1152.2" cy="963.6" r="5.1" fill="#000"/><circle cx="1172.3" cy="963.6" r="5.1" fill="#000"/><circle cx="1193.2" cy="963.6" r="5.1" fill="#000"/>
<line x1="43.2" y1="1018.2" x2="2127" y2="1018.2" stroke="#808080" stroke-width="3.2"/>
<rect x="569.85" y="1040.00" width="30.30" height="51.20" rx="15.15" fill="#B8D3AE"/><path d="M562.00,1075.50 A23.00,23.00 0 0 0 608.00,1075.50" fill="none" stroke="#696969" stroke-width="4.90" stroke-linecap="round"/><line x1="585.00" y1="1098.50" x2="585.00" y2="1109.30" stroke="#696969" stroke-width="4.90"/><line x1="569.50" y1="1109.30" x2="600.50" y2="1109.30" stroke="#696969" stroke-width="4.50" stroke-linecap="round"/>
<rect x="715.55" y="1040.00" width="30.30" height="51.20" rx="15.15" fill="#B8D3AE"/><path d="M707.70,1075.50 A23.00,23.00 0 0 0 753.70,1075.50" fill="none" stroke="#696969" stroke-width="4.90" stroke-linecap="round"/><line x1="730.70" y1="1098.50" x2="730.70" y2="1109.30" stroke="#696969" stroke-width="4.90"/><line x1="715.20" y1="1109.30" x2="746.20" y2="1109.30" stroke="#696969" stroke-width="4.50" stroke-linecap="round"/>
<rect x="1713.85" y="1040.00" width="30.30" height="51.20" rx="15.15" fill="#B8D3AE"/><path d="M1706.00,1075.50 A23.00,23.00 0 0 0 1752.00,1075.50" fill="none" stroke="#696969" stroke-width="4.90" stroke-linecap="round"/><line x1="1729.00" y1="1098.50" x2="1729.00" y2="1109.30" stroke="#696969" stroke-width="4.90"/><line x1="1713.50" y1="1109.30" x2="1744.50" y2="1109.30" stroke="#696969" stroke-width="4.50" stroke-linecap="round"/>
<line x1="43.2" y1="1125.8" x2="2130.6" y2="1125.8" stroke="#808080" stroke-width="3.2"/>
<line x1="296" y1="1207.5" x2="296" y2="1228" stroke="#C0C0C0" stroke-width="3.3"/>
<line x1="440" y1="1207.5" x2="440" y2="1228" stroke="#C0C0C0" stroke-width="3.3"/>
<line x1="584" y1="1207.5" x2="584" y2="1228" stroke="#C0C0C0" stroke-width="3.3"/>
<line x1="728" y1="1207.5" x2="728" y2="1228" stroke="#C0C0C0" stroke-width="3.3"/>
<line x1="872" y1="1207.5" x2="872" y2="1228" stroke="#C0C0C0" stroke-width="3.3"/>
<line x1="1016" y1="1207.5" x2="1016" y2="1228" stroke="#C0C0C0" stroke-width="3.3"/>
<line x1="1160" y1="1207.5" x2="1160" y2="1228" stroke="#C0C0C0" stroke-width="3.3"/>
<line x1="1303.4" y1="1207.5" x2="1303.4" y2="1228" stroke="#C0C0C0" stroke-width="3.3"/>
<line x1="1446.6" y1="1207.5" x2="1446.6" y2="1228" stroke="#C0C0C0" stroke-width="3.3"/>
<line x1="1590.2" y1="1207.5" x2="1590.2" y2="1228" stroke="#C0C0C0" stroke-width="3.3"/>
<line x1="1734.8" y1="1207.5" x2="1734.8" y2="1228" stroke="#C0C0C0" stroke-width="3.3"/>
<line x1="1878.4" y1="1207.5" x2="1878.4" y2="1228" stroke="#C0C0C0" stroke-width="3.3"/>
<line x1="2002" y1="1207.5" x2="2002" y2="1228" stroke="#C0C0C0" stroke-width="3.3"/>
<line x1="43.9" y1="1230.8" x2="2117" y2="1230.8" stroke="#4A6BAC" stroke-width="7.3"/>
<polygon points="2115.5,1220.3 2136.6,1230.8 2115.5,1241.4" fill="#4A6BAC"/>
<text x="248.50" y="56.90" font-family="Liberation Sans" font-size="38.00" font-style="normal" fill="#000" textLength="247.28" lengthAdjust="spacingAndGlyphs" stroke="#000" stroke-width="0.55">LLM Hidden as</text>
<text x="249.00" y="100.00" font-family="Liberation Sans" font-size="38.00" font-style="normal" fill="#000" textLength="321.58" lengthAdjust="spacingAndGlyphs" stroke="#000" stroke-width="0.55">Speech Embedding</text>
<text x="248.50" y="162.10" font-family="Liberation Sans" font-size="38.00" font-style="normal" fill="#000" textLength="329.37" lengthAdjust="spacingAndGlyphs" stroke="#000" stroke-width="0.55">Omni-modality Time</text>
<text x="249.00" y="206.20" font-family="Liberation Sans" font-size="38.00" font-style="normal" fill="#000" textLength="314.64" lengthAdjust="spacingAndGlyphs" stroke="#000" stroke-width="0.55">Division Multiplexer</text>
<text x="249.50" y="268.80" font-family="Liberation Sans" font-size="38.00" font-style="normal" fill="#000" textLength="222.76" lengthAdjust="spacingAndGlyphs" stroke="#000" stroke-width="0.55">Visual Stream</text>
<text x="249.50" y="337.30" font-family="Liberation Sans" font-size="38.00" font-style="normal" fill="#000" textLength="220.54" lengthAdjust="spacingAndGlyphs" stroke="#000" stroke-width="0.55">Audio Stream</text>
<text x="249.50" y="399.00" font-family="Liberation Sans" font-size="38.00" font-style="normal" fill="#000" textLength="287.16" lengthAdjust="spacingAndGlyphs" stroke="#000" stroke-width="0.55">User Query Audio</text>
<text x="249.50" y="464.00" font-family="Liberation Sans" font-size="38.00" font-style="normal" fill="#000" textLength="241.28" lengthAdjust="spacingAndGlyphs" stroke="#000" stroke-width="0.55">Omitted Inputs</text>
<text x="69.00" y="187.90" font-family="Liberation Sans" font-size="38.00" font-style="normal" fill="#222" textLength="108.53" lengthAdjust="spacingAndGlyphs" stroke="#222" stroke-width="0.55">OTDM</text>
<text x="57.50" y="267.30" font-family="Liberation Serif" font-size="40.68" font-style="normal" fill="#000" textLength="125.57" lengthAdjust="spacingAndGlyphs" stroke="#FFFFFF" stroke-width="0.65">Stream</text>
<text x="186.00" y="252.10" font-family="Liberation Serif" font-size="29.27" font-style="italic" fill="#000" textLength="18.39" lengthAdjust="spacingAndGlyphs">V</text>
<text x="57.50" y="333.50" font-family="Liberation Serif" font-size="40.81" font-style="normal" fill="#000" textLength="126.38" lengthAdjust="spacingAndGlyphs" stroke="#FFFFFF" stroke-width="0.65">Stream</text>
<text x="189.00" y="315.70" font-family="Liberation Serif" font-size="28.18" font-style="italic" fill="#000" textLength="17.89" lengthAdjust="spacingAndGlyphs">A</text>
<text x="59.00" y="398.30" font-family="Liberation Serif" font-size="40.00" font-style="normal" fill="#000" textLength="94.31" lengthAdjust="spacingAndGlyphs" stroke="#FFFFFF" stroke-width="0.65">Query</text>
<text x="158.00" y="382.10" font-family="Liberation Serif" font-size="25.42" font-style="italic" fill="#000" textLength="17.31" lengthAdjust="spacingAndGlyphs">A</text>
<text x="91.00" y="77.10" font-family="Liberation Serif" font-size="40.83" font-style="normal" fill="#000" textLength="29.83" lengthAdjust="spacingAndGlyphs" stroke="#8FABDF" stroke-width="0.5">H</text>
<text x="122.00" y="84.70" font-family="Liberation Serif" font-size="29.18" font-style="normal" fill="#000" textLength="15.42" lengthAdjust="spacingAndGlyphs">0</text>
<text x="803.50" y="71.70" font-family="Liberation Sans" font-size="41.80" font-style="normal" fill="#000" textLength="527.04" lengthAdjust="spacingAndGlyphs" stroke="#000" stroke-width="0.55">( A cat <tspan fill="#86A8D6" stroke="#86A8D6">just ran</tspan> out, and a dog</text>
<text x="804.00" y="119.70" font-family="Liberation Sans" font-size="41.80" font-style="normal" fill="#000" textLength="473.14" lengthAdjust="spacingAndGlyphs" stroke="#000" stroke-width="0.55">is <tspan fill="#EEB600" stroke="#EEB600">going</tspan> by as you speak. )</text>
<text x="1862.00" y="89.80" font-family="Liberation Sans" font-size="41.80" font-style="normal" fill="#000" textLength="209.85" lengthAdjust="spacingAndGlyphs" stroke="#000" stroke-width="0.55">&lt;speaking&gt;</text>
<text x="1172.00" y="349.40" font-family="Liberation Sans" font-size="53.50" font-style="normal" fill="#000" textLength="627.29" lengthAdjust="spacingAndGlyphs" stroke="#000" stroke-width="0.55">Streaming Speech Decoder</text>
<text x="722.50" y="614.30" font-family="Liberation Sans" font-size="62.30" font-style="normal" fill="#000" textLength="945.72" lengthAdjust="spacingAndGlyphs" stroke="#000" stroke-width="0.55">Omni-Modality Streaming Backbone</text>
<text x="52.00" y="747.90" font-family="Liberation Sans" font-size="50.70" font-style="normal" fill="#222" textLength="140.67" lengthAdjust="spacingAndGlyphs" stroke="#222" stroke-width="0.55">OTDM</text>
<text x="460.50" y="1169.80" font-family="Liberation Sans" font-size="42.20" font-style="normal" fill="#000" textLength="389.29" lengthAdjust="spacingAndGlyphs" stroke="#000" stroke-width="0.55">( What just ran past? )</text>
<text x="1526.00" y="1171.95" font-family="Liberation Sans" font-size="42.20" font-style="normal" fill="#000" textLength="434.85" lengthAdjust="spacingAndGlyphs" stroke="#000" stroke-width="0.55">( Read a poem happily. )</text>
<text x="853.00" y="475.20" font-family="Liberation Serif" font-size="40.48" font-style="normal" fill="#000" textLength="30.46" lengthAdjust="spacingAndGlyphs" stroke="#8FABDF" stroke-width="0.5">H</text>
<text x="884.00" y="482.70" font-family="Liberation Serif" font-size="29.25" font-style="normal" fill="#000" textLength="15.70" lengthAdjust="spacingAndGlyphs">0</text>
<text x="1823.50" y="475.20" font-family="Liberation Serif" font-size="40.48" font-style="normal" fill="#000" textLength="28.81" lengthAdjust="spacingAndGlyphs" stroke="#8FABDF" stroke-width="0.5">H</text>
<text x="1853.50" y="482.70" font-family="Liberation Serif" font-size="29.25" font-style="normal" fill="#000" textLength="15.17" lengthAdjust="spacingAndGlyphs">0</text>
<text x="936.00" y="478.40" font-family="Liberation Serif" font-size="52.25" font-style="normal" fill="#000" textLength="35.11" lengthAdjust="spacingAndGlyphs" stroke="#FFFFFF" stroke-width="0.7">T</text>
<text x="973.00" y="486.40" font-family="Liberation Serif" font-size="36.32" font-style="normal" fill="#000" textLength="18.30" lengthAdjust="spacingAndGlyphs">1</text>
<text x="995.50" y="478.40" font-family="Liberation Serif" font-size="52.25" font-style="normal" fill="#000" textLength="35.30" lengthAdjust="spacingAndGlyphs" stroke="#FFFFFF" stroke-width="0.7">T</text>
<text x="1032.50" y="487.20" font-family="Liberation Serif" font-size="37.67" font-style="normal" fill="#000" textLength="19.95" lengthAdjust="spacingAndGlyphs">2</text>
<text x="1056.50" y="478.40" font-family="Liberation Serif" font-size="52.25" font-style="normal" fill="#000" textLength="34.89" lengthAdjust="spacingAndGlyphs" stroke="#FFFFFF" stroke-width="0.7">T</text>
<text x="1093.00" y="487.20" font-family="Liberation Serif" font-size="37.67" font-style="normal" fill="#000" textLength="19.12" lengthAdjust="spacingAndGlyphs">3</text>
<text x="1903.50" y="478.40" font-family="Liberation Serif" font-size="52.25" font-style="normal" fill="#000" textLength="36.59" lengthAdjust="spacingAndGlyphs" stroke="#FFFFFF" stroke-width="0.7">T</text>
<text x="1941.00" y="486.40" font-family="Liberation Serif" font-size="36.32" font-style="normal" fill="#000" textLength="19.87" lengthAdjust="spacingAndGlyphs">1</text>
<text x="1966.00" y="478.40" font-family="Liberation Serif" font-size="52.25" font-style="normal" fill="#000" textLength="36.37" lengthAdjust="spacingAndGlyphs" stroke="#FFFFFF" stroke-width="0.7">T</text>
<text x="2004.50" y="487.20" font-family="Liberation Serif" font-size="37.67" font-style="normal" fill="#000" textLength="19.92" lengthAdjust="spacingAndGlyphs">2</text>
<text x="38.00" y="864.70" font-family="Liberation Serif" font-size="48.86" font-style="normal" fill="#000" textLength="154.99" lengthAdjust="spacingAndGlyphs" stroke="#FFFFFF" stroke-width="0.8">Stream</text>
<text x="193.00" y="844.70" font-family="Liberation Serif" font-size="32.69" font-style="italic" fill="#000" textLength="24.96" lengthAdjust="spacingAndGlyphs">V</text>
<text x="40.50" y="974.00" font-family="Liberation Serif" font-size="48.57" font-style="normal" fill="#000" textLength="149.24" lengthAdjust="spacingAndGlyphs" stroke="#FFFFFF" stroke-width="0.8">Stream</text>
<text x="195.00" y="955.70" font-family="Liberation Serif" font-size="34.94" font-style="italic" fill="#000" textLength="21.88" lengthAdjust="spacingAndGlyphs">A</text>
<text x="42.50" y="1087.10" font-family="Liberation Serif" font-size="50.00" font-style="normal" fill="#000" textLength="131.46" lengthAdjust="spacingAndGlyphs" stroke="#FFFFFF" stroke-width="0.8">Query</text>
<text x="180.00" y="1066.10" font-family="Liberation Serif" font-size="36.05" font-style="italic" fill="#000" textLength="22.70" lengthAdjust="spacingAndGlyphs">A</text>
<text x="44.00" y="1195.00" font-family="Liberation Serif" font-size="50.99" font-style="normal" fill="#000" textLength="115.70" lengthAdjust="spacingAndGlyphs" stroke="#FFFFFF" stroke-width="0.8">Time</text>
<text x="278.00" y="1266.00" font-family="Liberation Serif" font-size="52.54" font-style="italic" fill="#000" textLength="16.50" lengthAdjust="spacingAndGlyphs">t</text>
<text x="299.00" y="1275.50" font-family="Liberation Serif" font-size="40.02" font-style="normal" fill="#000" textLength="17.74" lengthAdjust="spacingAndGlyphs">1</text>
<text x="417.00" y="1266.00" font-family="Liberation Serif" font-size="52.54" font-style="italic" fill="#000" textLength="16.34" lengthAdjust="spacingAndGlyphs">t</text>
<text x="439.50" y="1275.50" font-family="Liberation Serif" font-size="40.02" font-style="normal" fill="#000" textLength="19.59" lengthAdjust="spacingAndGlyphs">2</text>
<text x="561.50" y="1266.00" font-family="Liberation Serif" font-size="52.54" font-style="italic" fill="#000" textLength="16.50" lengthAdjust="spacingAndGlyphs">t</text>
<text x="583.00" y="1275.50" font-family="Liberation Serif" font-size="40.02" font-style="normal" fill="#000" textLength="19.91" lengthAdjust="spacingAndGlyphs">3</text>
<text x="705.00" y="1266.00" font-family="Liberation Serif" font-size="52.54" font-style="italic" fill="#000" textLength="16.41" lengthAdjust="spacingAndGlyphs">t</text>
<text x="727.50" y="1275.50" font-family="Liberation Serif" font-size="40.02" font-style="normal" fill="#000" textLength="19.94" lengthAdjust="spacingAndGlyphs">4</text>
<text x="853.00" y="1266.00" font-family="Liberation Serif" font-size="52.54" font-style="italic" fill="#000" textLength="16.34" lengthAdjust="spacingAndGlyphs">t</text>
<text x="874.50" y="1275.50" font-family="Liberation Serif" font-size="40.02" font-style="normal" fill="#000" textLength="19.51" lengthAdjust="spacingAndGlyphs">5</text>
<text x="997.00" y="1266.00" font-family="Liberation Serif" font-size="52.54" font-style="italic" fill="#000" textLength="16.50" lengthAdjust="spacingAndGlyphs">t</text>
<text x="1019.50" y="1275.50" font-family="Liberation Serif" font-size="40.02" font-style="normal" fill="#000" textLength="17.65" lengthAdjust="spacingAndGlyphs">6</text>
<text x="1140.50" y="1266.00" font-family="Liberation Serif" font-size="52.54" font-style="italic" fill="#000" textLength="16.50" lengthAdjust="spacingAndGlyphs">t</text>
<text x="1159.50" y="1275.50" font-family="Liberation Serif" font-size="40.02" font-style="normal" fill="#000" textLength="18.53" lengthAdjust="spacingAndGlyphs">7</text>
<text x="1284.50" y="1266.00" font-family="Liberation Serif" font-size="52.54" font-style="italic" fill="#000" textLength="17.68" lengthAdjust="spacingAndGlyphs">t</text>
<text x="1305.00" y="1275.50" font-family="Liberation Serif" font-size="40.02" font-style="normal" fill="#000" textLength="18.53" lengthAdjust="spacingAndGlyphs">8</text>
<text x="1428.50" y="1266.00" font-family="Liberation Serif" font-size="52.54" font-style="italic" fill="#000" textLength="16.50" lengthAdjust="spacingAndGlyphs">t</text>
<text x="1448.00" y="1275.50" font-family="Liberation Serif" font-size="40.02" font-style="normal" fill="#000" textLength="18.53" lengthAdjust="spacingAndGlyphs">9</text>
<text x="1562.50" y="1266.00" font-family="Liberation Serif" font-size="52.54" font-style="italic" fill="#000" textLength="16.50" lengthAdjust="spacingAndGlyphs">t</text>
<text x="1582.50" y="1275.50" font-family="Liberation Serif" font-size="40.02" font-style="normal" fill="#000" textLength="37.02" lengthAdjust="spacingAndGlyphs">10</text>
<text x="1706.50" y="1266.00" font-family="Liberation Serif" font-size="52.54" font-style="italic" fill="#000" textLength="17.68" lengthAdjust="spacingAndGlyphs">t</text>
<text x="1727.00" y="1275.50" font-family="Liberation Serif" font-size="40.02" font-style="normal" fill="#000" textLength="37.96" lengthAdjust="spacingAndGlyphs">11</text>
<text x="1850.50" y="1266.00" font-family="Liberation Serif" font-size="52.54" font-style="italic" fill="#000" textLength="16.34" lengthAdjust="spacingAndGlyphs">t</text>
<text x="1869.00" y="1275.50" font-family="Liberation Serif" font-size="40.02" font-style="normal" fill="#000" textLength="38.17" lengthAdjust="spacingAndGlyphs">12</text>
<text x="1982.00" y="1266.00" font-family="Liberation Serif" font-size="52.54" font-style="italic" fill="#000" textLength="16.50" lengthAdjust="spacingAndGlyphs">t</text>
<text x="2004.00" y="1275.50" font-family="Liberation Serif" font-size="40.02" font-style="normal" fill="#000" textLength="38.14" lengthAdjust="spacingAndGlyphs">13</text>
</svg>
</body></html>
